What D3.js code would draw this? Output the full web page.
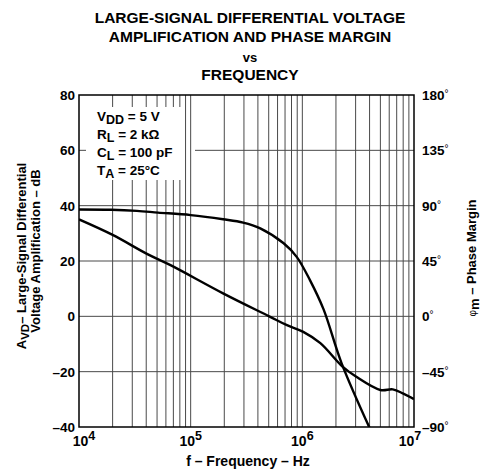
<!DOCTYPE html>
<html>
<head>
<meta charset="utf-8">
<script src="https://cdn.jsdelivr.net/npm/d3@7"></script>
<style>
html,body{margin:0;padding:0;background:#fff;}
svg{display:block;font-family:"Liberation Sans",Arial,Helvetica,sans-serif;font-weight:bold;}
</style>
</head>
<body>
<svg id="chart" width="483" height="470"></svg>
<script>
// ---- data ----
const titleLines = ["LARGE-SIGNAL DIFFERENTIAL VOLTAGE", "AMPLIFICATION AND PHASE MARGIN", "vs", "FREQUENCY"];
const gainFreq = [1e4, 1.95e4, 3.3e4, 5.1e4, 1e5, 1.95e5, 2.95e5, 4.2e5, 6.8e5, 8.9e5, 1.17e6, 1.55e6, 2.24e6, 4e6];
const gainDb   = [38.6, 38.5, 38.1, 37.5, 36.6, 35.1, 33.9, 31.8, 26.4, 21.5, 13.1, 2.5, -16.8, -40.3];
const phaseFreq = [1e4, 2e4, 4.1e4, 6.6e4, 1.95e5, 5.1e5, 7.2e5, 1.02e6, 1.45e6, 2.29e6, 3.02e6, 5e6, 6.46e6, 7.94e6, 1e7];
const phaseDeg  = [78.8, 66.2, 50.6, 41.6, 18.7, -0.2, -7, -12.6, -21.8, -40.9, -49, -59.9, -59.4, -62.6, -67.3];
const leftTicks = [-40, -20, 0, 20, 40, 60, 80];
const rightTicks = [-90, -45, 0, 45, 90, 135, 180];
const xTickExps = [4, 5, 6, 7];
const legendLines = [
  {main: "V", sub: "DD", rest: " = 5 V"},
  {main: "R", sub: "L", rest: " = 2 kΩ"},
  {main: "C", sub: "L", rest: " = 100 pF"},
  {main: "T", sub: "A", rest: " = 25°C"}
];

// ---- layout ----
const L = 79, R = 414, T = 95, B = 427;
const svg = d3.select("#chart");
const x = d3.scaleLog().domain([1e4, 1e7]).range([L, R]);
const yL = d3.scaleLinear().domain([-40, 80]).range([B, T]);
const yR = d3.scaleLinear().domain([-90, 180]).range([B, T]);

const box = {x0: 86, x1: 195, y0: 107, y1: 180};
const gridColor = "#4a4a4a";

// horizontal grid
svg.append("g").selectAll("line").data(leftTicks.filter(v => v > -40 && v < 80)).join("line")
  .attr("x1", L).attr("x2", R).attr("y1", d => yL(d)).attr("y2", d => yL(d))
  .attr("stroke", gridColor).attr("stroke-width", 1);

// legend backing box
svg.append("rect").attr("x", box.x0).attr("y", box.y0)
  .attr("width", box.x1 - box.x0).attr("height", box.y1 - box.y0).attr("fill", "#fff");

// vertical grid
const vt = x.ticks().filter(v => v > 1e4 && v < 1e7);
const vg = svg.append("g").attr("stroke", gridColor).attr("stroke-width", 1);
vt.forEach(v => {
  const px = x(v);
  if (px > box.x0 && px < 184) {
    vg.append("line").attr("x1", px).attr("x2", px).attr("y1", T).attr("y2", box.y0);
    vg.append("line").attr("x1", px).attr("x2", px).attr("y1", box.y1).attr("y2", B);
  } else {
    vg.append("line").attr("x1", px).attr("x2", px).attr("y1", T).attr("y2", B);
  }
});

// border
svg.append("rect").attr("x", L).attr("y", T).attr("width", R - L).attr("height", B - T)
  .attr("fill", "none").attr("stroke", "#000").attr("stroke-width", 1.5);

// curves
svg.append("clipPath").attr("id", "pc").append("rect")
  .attr("x", L).attr("y", T).attr("width", R - L).attr("height", B - T);
const gainData = gainFreq.map((f, i) => [f, gainDb[i]]);
const phaseData = phaseFreq.map((f, i) => [f, phaseDeg[i]]);
svg.append("path").datum(gainData).attr("clip-path", "url(#pc)")
  .attr("d", d3.line().x(d => x(d[0])).y(d => yL(d[1])).curve(d3.curveCatmullRom.alpha(0.5)))
  .attr("fill", "none").attr("stroke", "#000").attr("stroke-width", 2.4);
svg.append("path").datum(phaseData).attr("clip-path", "url(#pc)")
  .attr("d", d3.line().x(d => x(d[0])).y(d => yR(d[1])).curve(d3.curveCatmullRom.alpha(0.5)))
  .attr("fill", "none").attr("stroke", "#000").attr("stroke-width", 2.4);

// title
const ty = [23, 42, 62, 80];
titleLines.forEach((t, i) => {
  svg.append("text").attr("x", 250).attr("y", ty[i]).attr("text-anchor", "middle")
    .attr("font-size", i === 2 ? 13 : 15.5).text(t);
});

// left tick labels
svg.append("g").selectAll("text").data(leftTicks).join("text")
  .attr("x", 75).attr("y", d => yL(d) + 5).attr("text-anchor", "end")
  .attr("font-size", 13.5).text(d => d < 0 ? "–" + Math.abs(d) : d);

// right tick labels
const rt = svg.append("g").selectAll("text").data(rightTicks).join("text")
  .attr("x", 422).attr("y", d => yR(d) + 5).attr("font-size", 13.5);
rt.append("tspan").text(d => d < 0 ? "–" + Math.abs(d) : d);
rt.append("tspan").attr("font-size", 10).attr("font-weight", "normal").attr("dy", -3).text("°");

// bottom tick labels
const shift = {4: 5, 7: -4};
const bt = svg.append("g").selectAll("text").data(xTickExps).join("text")
  .attr("x", d => x(Math.pow(10, d)) + (shift[d] || 0)).attr("y", 446).attr("text-anchor", "middle").attr("font-size", 14);
bt.append("tspan").text("10");
bt.append("tspan").attr("dy", -6).attr("font-size", 12.5).text(d => d);

// x axis title
svg.append("text").attr("x", 248).attr("y", 466).attr("text-anchor", "middle")
  .attr("font-size", 14).text("f – Frequency – Hz");

// left axis title
const lt1 = svg.append("text").attr("transform", "translate(26,256) rotate(-90)")
  .attr("text-anchor", "middle").attr("font-size", 13);
lt1.append("tspan").text("A");
lt1.append("tspan").attr("dy", 3).attr("font-size", 11.5).text("VD");
lt1.append("tspan").attr("dy", -3).text("– Large-Signal Differential");
svg.append("text").attr("transform", "translate(40,251) rotate(-90)")
  .attr("text-anchor", "middle").attr("font-size", 13).text("Voltage Amplification – dB");

// right axis title
const rtt = svg.append("text").attr("transform", "translate(476,258) rotate(-90)")
  .attr("text-anchor", "middle").attr("font-size", 13);
rtt.append("tspan").attr("font-size", 10).attr("font-weight", "normal").text("φ");
rtt.append("tspan").attr("dy", 3).text("m");
rtt.append("tspan").attr("dy", -3).text(" – Phase Margin");

// legend text
const lg = svg.append("g");
const lb = [121, 139, 157, 175];
legendLines.forEach((l, i) => {
  const t = lg.append("text").attr("x", 97).attr("y", lb[i]).attr("font-size", 13.5);
  t.append("tspan").text(l.main);
  t.append("tspan").attr("dy", 3).attr("font-size", 12.5).text(l.sub);
  t.append("tspan").attr("dy", -3).text(l.rest);
});
</script>
</body>
</html>
